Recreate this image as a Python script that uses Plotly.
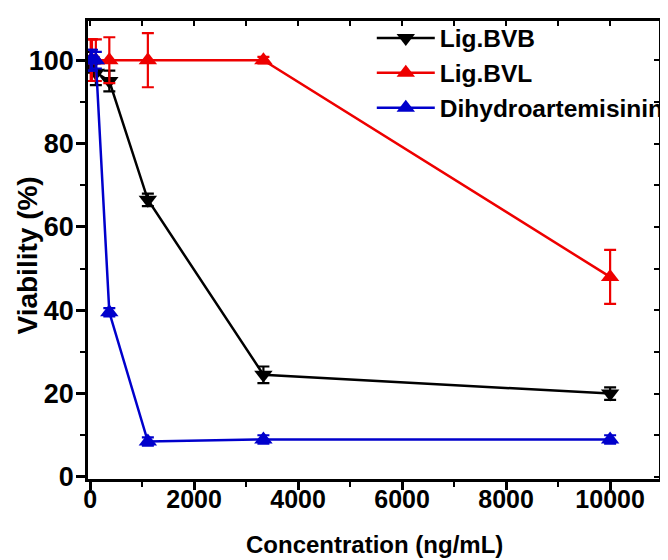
import plotly.graph_objects as go

conc = [12.3, 37, 111, 370, 1111, 3333, 10000]
bvb = [100, 99, 97, 95, 66.5, 24.5, 20]
bvb_err = [2, 2, 3, 2.5, 1.5, 2, 1.5]
bvl = [100, 100, 100, 100, 100, 100, 48]
bvl_err = [5, 5, 5, 5.5, 6.5, 0.8, 6.5]
dha = [100, 100, 100, 39.5, 8.5, 9, 9]
dha_err = [2.5, 2.5, 2, 1, 1, 1, 1]

xtick_vals = [0, 2000, 4000, 6000, 8000, 10000]
xtick_text = ["0", "2000", "4000", "6000", "8000", "10000"]
ytick_vals = [0, 20, 40, 60, 80, 100]

names = ["Lig.BVB", "Lig.BVL", "Dihydroartemisinin"]
colors = ["#000000", "#ee0000", "#0000cc"]
symbols = ["triangle-down", "triangle-up", "triangle-up"]

FONT = "Arial, 'Liberation Sans', sans-serif"
BOLD = dict(family=FONT, weight="bold", color="black")

fig = go.Figure()
for name, ys, es, c, s in zip(names, [bvb, bvl, dha], [bvb_err, bvl_err, dha_err], colors, symbols):
    fig.add_trace(go.Scatter(
        x=conc, y=ys, name=name, mode="lines+markers",
        line=dict(color=c, width=2.5),
        marker=dict(symbol=s, size=16, color=c),
        error_y=dict(type="data", array=es, visible=True, color=c, thickness=2.2, width=6),
    ))

xr = [-40, 10940]
yr = [-0.5, 109.4]
axis_common = dict(showline=True, linecolor="black", linewidth=2.5, showgrid=False,
                   zeroline=False, automargin=False)

# the page body adds an 8px offset, so the margins are shifted to compensate
fig.update_layout(
    width=668, height=560,
    paper_bgcolor="white", plot_bgcolor="white",
    margin=dict(l=80, r=13, t=7, b=89),
    font=dict(family=FONT, color="black"),
    showlegend=True,
    legend=dict(x=0.497, y=1.012, xanchor="left", yanchor="top",
                font=dict(size=24.5, family=FONT, weight="bold"),
                bgcolor="rgba(0,0,0,0)", itemwidth=58, tracegroupgap=0),
    xaxis=dict(range=xr, tickvals=xtick_vals, ticktext=xtick_text,
               ticks="outside", ticklen=8, tickwidth=2.5, tickcolor="black",
               tickfont=dict(size=25, **BOLD), ticklabelstandoff=-12,
               minor=dict(dtick=1000, ticks="outside", ticklen=5, tickwidth=2, tickcolor="black"),
               **axis_common),
    yaxis=dict(range=yr, tickvals=ytick_vals,
               ticks="outside", ticklen=9, tickwidth=2.5, tickcolor="black",
               tickfont=dict(size=27, **BOLD), ticklabelstandoff=-3,
               minor=dict(dtick=10, ticks="outside", ticklen=5, tickwidth=2, tickcolor="black"),
               **axis_common),
    xaxis2=dict(range=xr, overlaying="x", side="top", anchor="y", tickvals=list(range(0, 11000, 1000)),
                ticks="inside", ticklen=5, tickwidth=2, tickcolor="black", showticklabels=False,
                **axis_common),
    yaxis2=dict(range=yr, overlaying="y", side="right", anchor="x", tickvals=list(range(0, 110, 10)),
                ticks="inside", ticklen=5, tickwidth=2, tickcolor="black", showticklabels=False,
                **axis_common),
    annotations=[
        dict(text="Concentration (ng/mL)", xref="paper", yref="paper", x=0.501, y=-0.144,
             xanchor="center", yanchor="middle", showarrow=False, font=dict(size=24, **BOLD)),
        dict(text="Viability (%)", xref="paper", yref="paper", x=-0.106, y=0.489, textangle=-90,
             xanchor="center", yanchor="middle", showarrow=False, font=dict(size=28, **BOLD)),
    ],
)
# invisible helper trace so the mirrored frame axes are drawn
fig.add_trace(go.Scatter(x=[None], y=[None], xaxis="x2", yaxis="y2", showlegend=False, hoverinfo="skip"))

fig.write_html("out.html", config={"displayModeBar": False})
